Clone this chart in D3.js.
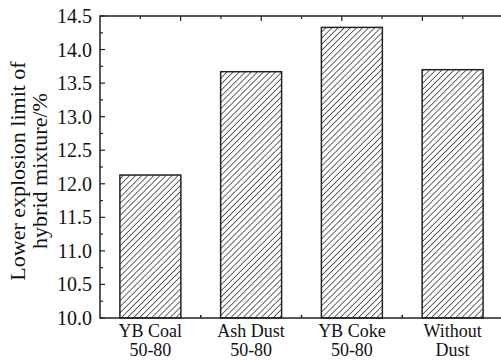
<!DOCTYPE html>
<html>
<head>
    <meta charset="utf-8">
    <script src="https://cdn.jsdelivr.net/npm/d3@7"></script>
    <style>
        body { margin: 0; background: #fff; }
        text { font-family: "Liberation Serif", "DejaVu Serif", "Times New Roman", serif; fill: #111; }
    </style>
</head>
<body>
    <div id="chart"></div>
    <script type="text/javascript">
        var categories = ["YB Coal\n50-80", "Ash Dust\n50-80", "YB Coke\n50-80", "Without\nDust"];
        var values = [12.13, 13.67, 14.33, 13.70];
        var yTicks = [10.0, 10.5, 11.0, 11.5, 12.0, 12.5, 13.0, 13.5, 14.0, 14.5];
        var yTitle = ["Lower explosion limit of", "hybrid mixture/%"];

        var width = 501;
        var height = 361;
        var margin = {left: 100, top: 16, right: -2, bottom: 43};
        var plotW = width - margin.left - margin.right;
        var plotH = height - margin.top - margin.bottom;

        var svg = d3.select("#chart").append("svg")
            .attr('width', width)
            .attr('height', height)
            .style('background', '#fff');

        // hatch fill
        var pat = svg.append("defs").append("pattern")
            .attr("id", "hatch")
            .attr("patternUnits", "userSpaceOnUse")
            .attr("width", 4.3)
            .attr("height", 4.3)
            .attr("patternTransform", "rotate(45)");
        pat.append("line")
            .attr("x1", 0).attr("y1", 0)
            .attr("x2", 0).attr("y2", 4.3)
            .attr("stroke", "#222")
            .attr("stroke-width", 1.4);

        var g = svg.append("g")
            .attr("transform", "translate(" + margin.left + "," + margin.top + ")");

        var y = d3.scaleLinear()
            .domain([10, 14.5])
            .range([plotH, 0]);

        var x = d3.scaleBand()
            .domain(categories)
            .range([0, plotW])
            .paddingInner(0.395)
            .paddingOuter(0.1975);

        // top axis has its own linear ticks (0.5 steps)
        var xTop = d3.scaleLinear().domain([0, 5]).range([0, plotW]);

        // bars
        g.append("g").selectAll("rect")
            .data(values)
            .enter().append("rect")
                .attr('x', function(d, i) { return x(categories[i]); })
                .attr('y', function(d) { return y(d); })
                .attr('width', x.bandwidth())
                .attr('height', function(d) { return plotH - y(d); })
                .attr('fill', 'url(#hatch)')
                .attr('stroke', '#222')
                .attr('stroke-width', 1.5);

        // left axis, ticks inside
        var minorY = d3.range(10, 14.5001, 0.25);
        g.append("g").selectAll("line.minor")
            .data(minorY)
            .enter().append("line")
                .attr("x1", 0)
                .attr("x2", function(d, i) { return i % 2 === 0 ? 5 : 3; })
                .attr("y1", function(d) { return y(d); })
                .attr("y2", function(d) { return y(d); })
                .attr("stroke", "#222")
                .attr("stroke-width", 1.2);

        g.append("g").selectAll("text")
            .data(yTicks)
            .enter().append("text")
                .attr("x", -8)
                .attr("y", function(d) { return y(d); })
                .attr("dy", "0.35em")
                .attr("text-anchor", "end")
                .style("font-size", "20px")
                .text(function(d) { return d.toFixed(1); });

        // top axis ticks
        g.append("g").selectAll("line")
            .data(d3.range(0.5, 5, 0.5))
            .enter().append("line")
                .attr("x1", function(d) { return xTop(d); })
                .attr("x2", function(d) { return xTop(d); })
                .attr("y1", 0)
                .attr("y2", function(d) { return d % 1 === 0 ? 5 : 3; })
                .attr("stroke", "#222")
                .attr("stroke-width", 1.2);

        // bottom ticks between categories
        g.append("g").selectAll("line")
            .data(categories.slice(1))
            .enter().append("line")
                .attr("x1", function(d) { return x(d) - x.step() * x.paddingInner() / 2; })
                .attr("x2", function(d) { return x(d) - x.step() * x.paddingInner() / 2; })
                .attr("y1", plotH)
                .attr("y2", plotH - 3)
                .attr("stroke", "#222")
                .attr("stroke-width", 1.5);

        // frame
        g.append("rect")
            .attr("x", 0).attr("y", 0)
            .attr("width", plotW).attr("height", plotH)
            .attr("fill", "none")
            .attr("stroke", "#222")
            .attr("stroke-width", 1.5);

        // category labels, one text per line
        categories.forEach(function(c) {
            c.split("\n").forEach(function(line, i) {
                g.append("text")
                    .attr("x", x(c) + x.bandwidth() / 2)
                    .attr("y", plotH + 19 + i * 19)
                    .attr("text-anchor", "middle")
                    .style("font-size", "18px")
                    .text(line);
            });
        });

        // y title
        var yt = svg.append("text")
            .attr("text-anchor", "middle")
            .style("font-size", "22px")
            .attr("transform", "translate(25,171) rotate(-90)");
        yt.selectAll("tspan")
            .data(yTitle)
            .enter().append("tspan")
                .attr("x", 0)
                .attr("dy", function(d, i) { return i === 0 ? 0 : 22; })
                .text(function(d) { return d; });
    </script>
</body>
</html>
